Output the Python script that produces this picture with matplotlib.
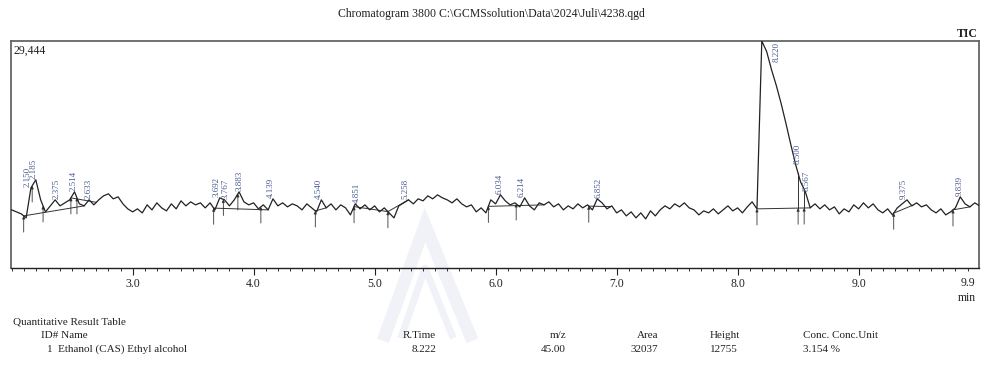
import numpy as np
import matplotlib
matplotlib.use("Agg")
import matplotlib.pyplot as plt
from matplotlib.ticker import MultipleLocator, FixedLocator
from matplotlib.transforms import blended_transform_factory
from matplotlib.lines import Line2D

# ---------------- data ----------------
t_start = 2.00
t_step = 0.04
tic = [7540, 7280, 7020, 6500, 10400, 11440, 8840, 7280, 8060, 8840,
       8060, 8450, 8840, 9880, 8320, 8060, 8840, 8190, 8840, 9360,
       9620, 8970, 9230, 8320, 7670, 7280, 7670, 7150, 8190, 7540,
       8450, 7800, 7410, 8320, 7670, 8710, 8060, 8580, 8190, 8450,
       7800, 8450, 7540, 9100, 8840, 8060, 8840, 9880, 8580, 8190,
       8450, 7670, 8190, 7540, 8970, 8060, 8450, 7930, 8320, 8060,
       7540, 8320, 7800, 7280, 8840, 7800, 8320, 7540, 8190, 7800,
       6890, 8320, 7670, 8190, 7540, 8060, 7280, 7800, 7150, 6500,
       8060, 8450, 8840, 8320, 8970, 8710, 9360, 8970, 9490, 9100,
       8840, 8450, 8970, 8320, 7930, 8190, 7280, 7800, 7150, 8840,
       8320, 9490, 8710, 8190, 8450, 7930, 9100, 8060, 7540, 8450,
       8190, 8580, 7930, 8320, 7540, 8060, 7670, 8320, 7800, 8190,
       7540, 8970, 8450, 7670, 8060, 7150, 7540, 6760, 7280, 6500,
       7150, 6370, 7410, 6760, 7540, 8060, 7670, 8320, 7930, 8450,
       7800, 7540, 6890, 7410, 7150, 7670, 7020, 7540, 8060, 7410,
       7800, 7150, 7930, 8580, 7670, 29444, 28080, 25740, 23660, 21320,
       18720, 15990, 13390, 11180, 9880, 7800, 8320, 7670, 8190, 7540,
       7930, 7020, 7670, 7280, 8190, 7670, 8450, 7800, 8320, 7540,
       7150, 7670, 6890, 7800, 8320, 8840, 8060, 8450, 7930, 8190,
       7540, 7150, 7670, 6890, 7280, 7800, 9230, 8320, 7930, 8450,
       8060]
y_max = 29444

peak_times = [2.150, 2.185, 2.375, 2.514, 2.633, 3.692, 3.767, 3.883, 4.139,
              4.540, 4.851, 5.258, 6.034, 6.214, 6.852, 8.220, 8.500, 8.567,
              9.375, 9.839]
peak_labels = ["2.150", "2.185", "2.375", "2.514", "2.633", "3.692", "3.767",
               "3.883", "4.139", "4.540", "4.851", "5.258", "6.034", "6.214",
               "6.852", "8.220", "8.500", "8.567", "9.375", "9.839"]

marker_times = [2.10, 2.17, 2.26, 2.49, 2.54, 3.67, 3.75, 3.87, 4.06, 4.51,
                4.83, 5.11, 5.94, 6.17, 6.77, 8.16, 8.50, 8.55, 9.29, 9.78]
base_starts = [2.10, 2.49, 3.67, 4.51, 4.83, 5.11, 5.94, 6.77, 8.16, 9.29, 9.78]
base_ends = [2.60, 2.70, 4.12, 4.60, 5.11, 5.28, 6.40, 6.95, 8.60, 9.45, 9.92]
drop_times = [8.50, 8.55]

x_ticks = [3.0, 4.0, 5.0, 6.0, 7.0, 8.0, 9.0]
x_ticklabels = ["3.0", "4.0", "5.0", "6.0", "7.0", "8.0", "9.0"]

title = "Chromatogram 3800 C:\\GCMSsolution\\Data\\2024\\Juli\\4238.qgd"
table_headers = ["ID# Name", "R.Time", "m/z", "Area", "Height", "Conc. Conc.Unit"]
table_row = ["1  Ethanol (CAS) Ethyl alcohol", "8.222", "45.00", "32037", "12755", "3.154 %"]

# ---------------- figure ----------------
W, H = 983, 390
fig = plt.figure(figsize=(W / 100, H / 100), dpi=100)
plt.rcParams['font.family'] = ['Liberation Serif', 'DejaVu Serif']

def fx(px):
    return px / W

def fy(py):
    return 1 - py / H

# very faint watermark shape in the background
wm = '#f0f2f8'
fig.add_artist(Line2D([fx(385), fx(425), fx(470)], [fy(335), fy(225), fy(335)],
                      color=wm, lw=9, zorder=0, solid_joinstyle='miter'))
fig.add_artist(Line2D([fx(402), fx(425), fx(452)], [fy(335), fy(268), fy(335)],
                      color=wm, lw=5, zorder=0))

ax = fig.add_axes([fx(11), fy(268), fx(979) - fx(11), fy(41) - fy(268)])
ax.patch.set_alpha(0)

t = t_start + t_step * np.arange(len(tic))
y = np.array(tic, dtype=float)
ax.plot(t, y, color='#222222', lw=0.9, zorder=3)

ax.set_xlim(1.995, 9.995)
ax.set_ylim(0, y_max)

# integration baselines
for s, e in zip(base_starts, base_ends):
    ax.plot([s, e], [np.interp(s, t, y), np.interp(e, t, y)],
            color='#333333', lw=0.7, zorder=2)

def main_base(m):
    return np.interp(m, [8.16, 8.60], [np.interp(8.16, t, y), np.interp(8.60, t, y)])

# peak start/end markers (arrows)
for m in marker_times:
    yv = main_base(m) if m in drop_times else np.interp(m, t, y)
    ax.annotate('', xy=(m, yv), xytext=(m, yv - 2100),
                arrowprops=dict(arrowstyle='-|>', lw=0.6, color='#333333',
                                mutation_scale=4, shrinkA=0, shrinkB=0),
                zorder=2)

# drop lines for the split peaks near 8.5
for m in drop_times:
    ax.plot([m, m], [main_base(m), np.interp(m, t, y)], color='#333333',
            lw=0.7, zorder=2)

# peak labels
for pt, lab in zip(peak_times, peak_labels):
    mask = (t >= pt - 0.03) & (t <= pt + 0.03)
    top = y[mask].max() if mask.any() else np.interp(pt, t, y)
    if top >= y_max * 0.98:
        ax.text(pt + 0.07, y_max - 150, lab, rotation=90, ha='left', va='top',
                fontsize=6.5, color='#4a5c90', zorder=4)
    else:
        dx = -0.015 if lab == "2.150" else 0.0
        ax.text(pt + dx, top + 150, lab, rotation=90, ha='center', va='bottom',
                fontsize=6.5, color='#4a5c90', zorder=4)

# spines
for s in ['top', 'left', 'right']:
    ax.spines[s].set_color('#666666')
    ax.spines[s].set_linewidth(1.3)
ax.spines['bottom'].set_color('#222222')
ax.spines['bottom'].set_linewidth(1.0)

ax.set_yticks([])
ax.xaxis.set_major_locator(FixedLocator(x_ticks))
ax.set_xticklabels(x_ticklabels)
ax.xaxis.set_minor_locator(MultipleLocator(0.1))
ax.tick_params(axis='x', which='major', direction='out', length=5, width=0.8,
               pad=2, labelsize=8.5, colors='#222222')
ax.tick_params(axis='x', which='minor', direction='out', length=2.5, width=0.7,
               colors='#333333')

tr = blended_transform_factory(ax.transData, fig.transFigure)
ax.text(9.9, fy(283), "9.9", transform=tr, ha='center', va='center',
        fontsize=8.5, color='#222222')
fig.text(fx(967), fy(298), "min", ha='center', va='center', fontsize=8.5,
         color='#222222')

fig.text(fx(491), fy(14), title, ha='center', va='center', fontsize=8.5,
         color='#222222')
fig.text(fx(978), fy(34), "TIC", ha='right', va='center', fontsize=8.5,
         color='#222222', fontweight='bold')
ax.text(0.003, 0.985, "29,444", transform=ax.transAxes, ha='left', va='top',
        fontsize=8.5, color='#222222')

# quantitative table
fig.text(fx(13), fy(322), "Quantitative Result Table", ha='left', va='center',
         fontsize=8, color='#222222')
col_x = [41, 436, 566, 658, 710, 803]
col_ha = ['left', 'right', 'right', 'right', 'left', 'left']
for i, (hdr, val) in enumerate(zip(table_headers, table_row)):
    fig.text(fx(col_x[i]), fy(336), hdr, ha=col_ha[i], va='center',
             fontsize=8, color='#222222')
    vx = col_x[i] + (6 if i == 0 else 0)
    fig.text(fx(vx), fy(349), val, ha=col_ha[i], va='center',
             fontsize=8, color='#222222')

fig.savefig("out.png", dpi=100)
